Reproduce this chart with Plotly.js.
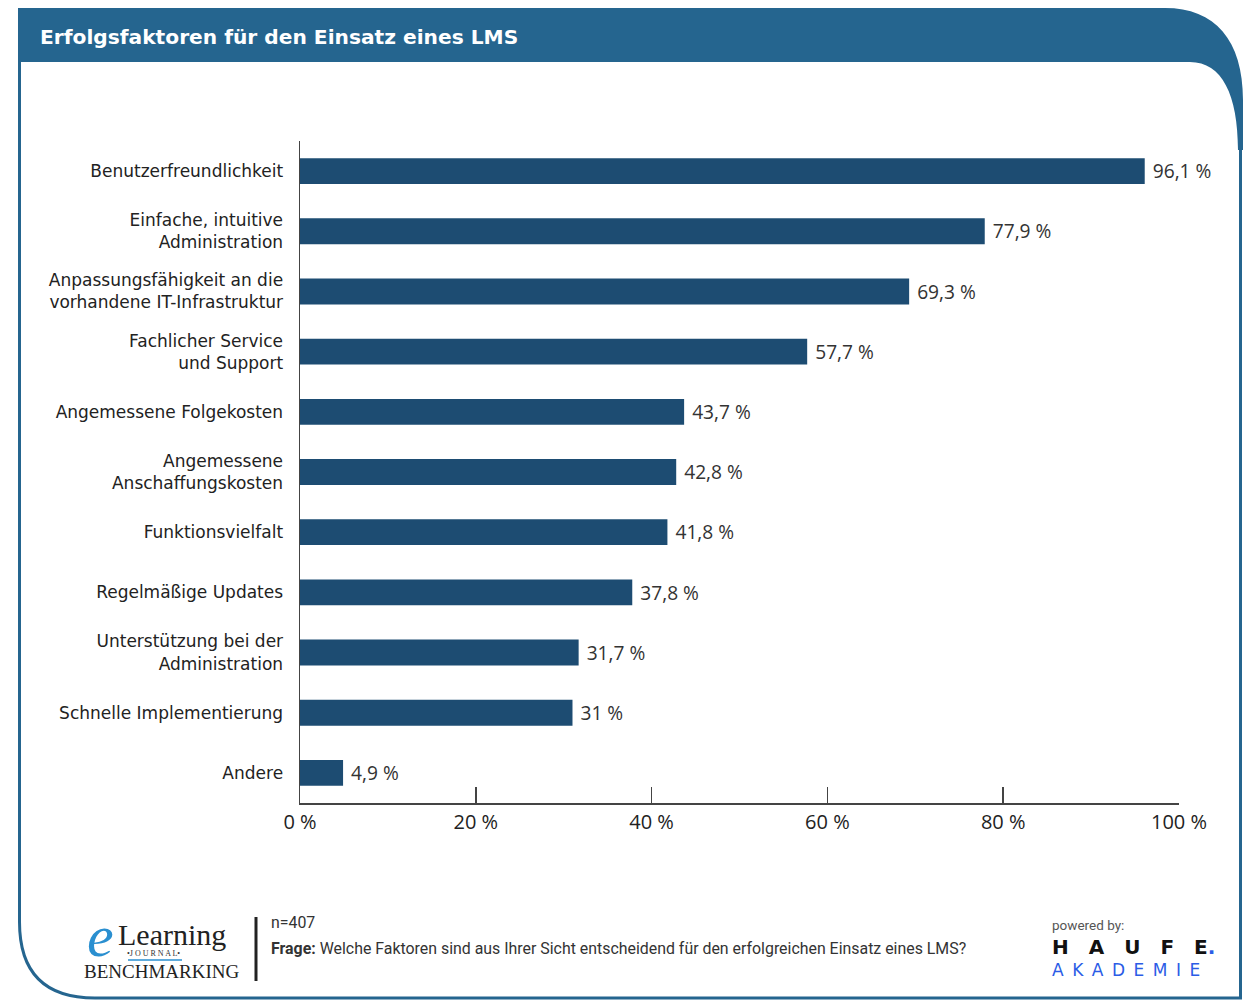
<!DOCTYPE html>
<html>
<head>
<meta charset="utf-8">
<script src="https://cdn.plot.ly/plotly-3.0.1.min.js"></script>
<style>
  html, body { margin: 0; padding: 0; background: #ffffff; }
  #chart { width: 1246px; height: 1004px; }
</style>
</head>
<body>
<div id="chart"></div>
<script>
// ---- data ----
const categories = [
  "Benutzerfreundlichkeit",
  "Einfache, intuitive<br>Administration",
  "Anpassungsfähigkeit an die<br>vorhandene IT-Infrastruktur",
  "Fachlicher Service<br>und Support",
  "Angemessene Folgekosten",
  "Angemessene<br>Anschaffungskosten",
  "Funktionsvielfalt",
  "Regelmäßige Updates",
  "Unterstützung bei der<br>Administration",
  "Schnelle Implementierung",
  "Andere"
];
const values = [96.1, 77.9, 69.3, 57.7, 43.7, 42.8, 41.8, 37.8, 31.7, 31, 4.9];
const tickValues = [0, 20, 40, 60, 80, 100];
const tickLabels = ["0 %", "20 %", "40 %", "60 %", "80 %", "100 %"];

const titleText = "Erfolgsfaktoren für den Einsatz eines LMS";
const sampleText = "n=407";
const questionText = "<b>Frage:</b> Welche Faktoren sind aus Ihrer Sicht entscheidend für den erfolgreichen Einsatz eines LMS?";

// ---- layout helpers (pixel -> paper) ----
const W = 1246, H = 1004;
const M = { l: 300, r: 67, t: 141, b: 201 };
const PW = W - M.l - M.r, PH = H - M.t - M.b;
const px = x => (x - M.l) / PW;
const py = y => (H - M.b - y) / PH;
const P = (x, y) => px(x).toFixed(5) + "," + py(y).toFixed(5);

const fmt = v => (Number.isInteger(v) ? String(v) : v.toFixed(1).replace(".", ",")) + " %";
const labels = values.map(v => "\u00a0" + fmt(v));

const blue = "#25658f";

const trace = {
  type: "bar",
  orientation: "h",
  x: values,
  y: categories,
  text: labels,
  textposition: "outside",
  cliponaxis: false,
  textfont: { family: "Open Sans, sans-serif", size: 20, color: "#333333" },
  marker: { color: "#1d4c72", line: { width: 0 } },
  hoverinfo: "skip"
};

const headerPath = "M" + P(18, 8) + " L" + P(1165, 8) +
  " C" + P(1215, 8) + " " + P(1243, 40) + " " + P(1243, 100) +
  " L" + P(1243, 150) + " L" + P(1238, 150) +
  " C" + P(1238, 95) + " " + P(1222, 62) + " " + P(1190, 62) +
  " L" + P(18, 62) + " Z";

const framePath = "M" + P(19.5, 62) + " L" + P(19.5, 922) +
  " Q" + P(19.5, 998) + " " + P(95, 998) +
  " L" + P(1240.5, 998) + " L" + P(1240.5, 140);

const shapes = [
  { type: "path", xref: "paper", yref: "paper", path: headerPath,
    fillcolor: blue, line: { width: 0 }, layer: "below" },
  { type: "path", xref: "paper", yref: "paper", path: framePath,
    fillcolor: "rgba(0,0,0,0)", line: { color: blue, width: 3 }, layer: "below" },
  // separator in footer
  { type: "line", xref: "paper", yref: "paper",
    x0: px(256), x1: px(256), y0: py(917), y1: py(981),
    line: { color: "#222222", width: 3 } },
  // eLearning logo underline
  { type: "line", xref: "paper", yref: "paper",
    x0: px(128), x1: px(182), y0: py(960), y1: py(960),
    line: { color: "#2a8fd0", width: 1.5 } }
];

const ann = (x, y, text, font, xanchor, yanchor) => ({
  xref: "paper", yref: "paper", x: px(x), y: py(y), text: text,
  showarrow: false, xanchor: xanchor || "left", yanchor: yanchor || "middle",
  borderpad: 0, font: font
});

const footFont = { family: "Roboto, sans-serif", size: 15.9, color: "#333333" };

const annotations = [
  ann(270, 922, sampleText, footFont),
  ann(270, 948, questionText, footFont),
  // eLearning Journal Benchmarking logo
  ann(86, 936, "<i>e</i>", { family: "Liberation Serif, serif", size: 60, color: "#2a8fd0" }),
  ann(117, 934, "Learning", { family: "Liberation Serif, serif", size: 30, color: "#222222" }),
  ann(126, 953, "•J O U R N A L•", { family: "Liberation Serif, serif", size: 8, color: "#333333" }),
  ann(83, 971, "BENCHMARKING", { family: "Liberation Serif, serif", size: 19, color: "#222222" }),
  // Haufe Akademie logo
  ann(1051, 925, "powered by:", { family: "Roboto, sans-serif", size: 13.5, color: "#555555" }),
  ann(1051, 947, "H\u2003A\u2003U\u2003F\u2003E<span style='color:#2b5ce6'>.</span>", { family: "DejaVu Sans, sans-serif", size: 20, color: "#111111", weight: 700 }),
  ann(1051, 970, "A\u2002K\u2002A\u2002D\u2002E\u2002M\u2002I\u2002E", { family: "DejaVu Sans, sans-serif", size: 17, color: "#2b5ce6" })
];

const layout = {
  width: W, height: H,
  margin: M,
  paper_bgcolor: "#ffffff",
  plot_bgcolor: "rgba(0,0,0,0)",
  showlegend: false,
  bargap: 0.57,
  title: {
    text: "<b>" + titleText + "</b>",
    xref: "container", yref: "container",
    x: 40 / W, y: 1 - 37 / H, xanchor: "left", yanchor: "middle",
    font: { family: "DejaVu Sans, sans-serif", size: 20.2, color: "#ffffff" }
  },
  xaxis: {
    range: [0, 100],
    tickvals: tickValues,
    ticktext: tickLabels,
    ticks: "inside", ticklen: 16, tickwidth: 1.5, tickcolor: "#444444",
    showline: true, linecolor: "#444444", linewidth: 1.5,
    showgrid: false, zeroline: false,
    tickfont: { family: "Open Sans, sans-serif", size: 20, color: "#222222" },
    fixedrange: true
  },
  yaxis: {
    type: "category",
    range: [10.5, -0.5],
    showline: true, linecolor: "#444444", linewidth: 1.5,
    ticks: "", showgrid: false, zeroline: false,
    ticklabelstandoff: 12,
    tickfont: { family: "DejaVu Sans, sans-serif", size: 17, color: "#222222" },
    fixedrange: true
  },
  shapes: shapes,
  annotations: annotations
};

Plotly.newPlot("chart", [trace], layout, { staticPlot: true, displayModeBar: false });
</script>
</body>
</html>
